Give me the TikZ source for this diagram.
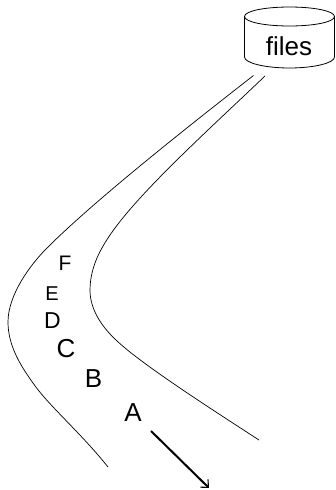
\documentclass[tikz,border=0pt]{standalone}
\usepackage{fontspec}
\setmainfont{Liberation Sans}
\usetikzlibrary{arrows.meta}
\tikzset{
  lane/.style={draw=black,line width=0.7pt},
  flow/.style={draw=black,line width=2pt,-{Straight Barb[length=6pt,width=11pt,line width=1.1pt]}},
  drum/.style={draw=black,line width=0.8pt,fill=white},
  lab/.style={inner sep=0pt,text=black}
}
\begin{document}
\begin{tikzpicture}[x=1pt,y=-1pt]
\useasboundingbox (0,0) rectangle (335,490);
% cylinder
\path[drum] (244.5,16.5) -- (244.5,57) .. controls (244.5,63) and (265,68) .. (289.5,68) .. controls (314,68) and (334.5,63) .. (334.5,57) -- (334.5,16.5);
\path[drum] (289.5,7) .. controls (314,7) and (334.5,11) .. (334.5,16.5) .. controls (334.5,22) and (314,26) .. (289.5,26) .. controls (265,26) and (244.5,22) .. (244.5,16.5) .. controls (244.5,11) and (265,7) .. (289.5,7) -- cycle;
\node[lab,font=\fontsize{26}{26}\selectfont] (files) at (289,46) {files};
% lanes
\coordinate (o1) at (253.5,75.5);
\coordinate (o2) at (108,467);
\coordinate (i1) at (265,76);
\coordinate (i2) at (259,440);
\draw[lane] (o1) .. controls (190,125) and (95,200) .. (47,248) .. controls (30,265) and (8,295) .. (8,322) .. controls (8,345) and (20,365) .. (33,383) .. controls (48,405) and (80,432) .. (o2);
\draw[lane] (i1) .. controls (200,138) and (125,205) .. (102,248) .. controls (95,260) and (90,275) .. (90,290) .. controls (90,308) and (100,325) .. (116,340) .. controls (140,363) and (205,405) .. (i2);
% labels
\node[lab,font=\fontsize{21}{21}\selectfont] (F) at (65,263.5) {F};
\node[lab,font=\fontsize{20}{20}\selectfont] (E) at (52,293.5) {E};
\node[lab,font=\fontsize{23}{23}\selectfont] (D) at (52.5,321) {D};
\node[lab,font=\fontsize{26}{26}\selectfont] (C) at (66,349) {C};
\node[lab,font=\fontsize{26}{26}\selectfont] (B) at (93.5,378.5) {B};
\node[lab,font=\fontsize{26}{26}\selectfont] (A) at (133,412.5) {A};
% arrow
\coordinate (a1) at (151,431);
\coordinate (a2) at (209,488);
\draw[flow] (a1) -- (a2);
\end{tikzpicture}
\end{document}
